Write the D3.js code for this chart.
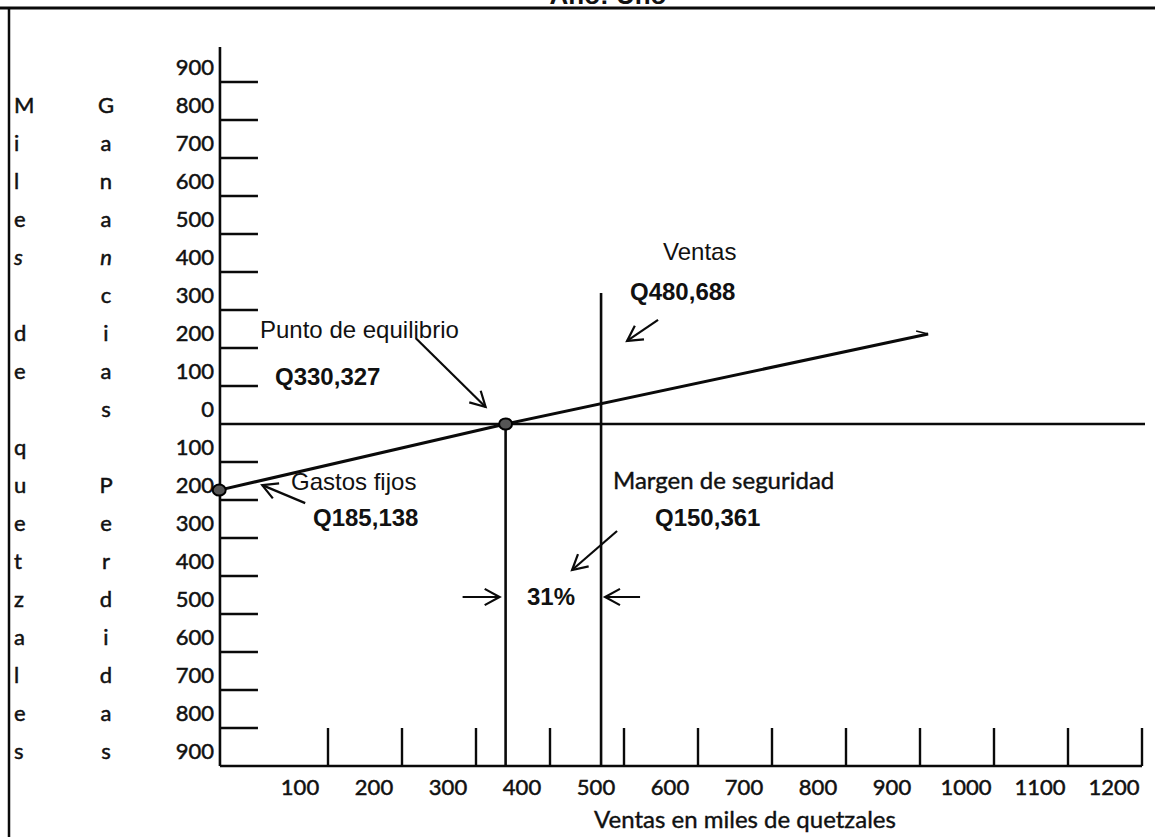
<!DOCTYPE html>
<html>
<head>
<meta charset="utf-8">
<script src="https://d3js.org/d3.v7.min.js"></script>
<style>
body { margin: 0; background: #fff; }
.ink { stroke: #0a0a0a; fill: none; }
.num { font-family: Lato, "Open Sans", sans-serif; font-size: 22px; fill: #111; stroke: #111; stroke-width: 0.5px; }
.note { font-family: "Liberation Sans", Arial, sans-serif; font-size: 24px; fill: #111; }
.note-b { font-family: "Liberation Sans", Arial, sans-serif; font-size: 24px; font-weight: bold; fill: #111; }
.cal { font-family: Lato, "Open Sans", sans-serif; font-size: 24px; fill: #111; stroke: #111; stroke-width: 0.4px; }
</style>
</head>
<body>
<script>
// ---- data (miles de quetzales) ----
var xTicks = [100, 200, 300, 400, 500, 600, 700, 800, 900, 1000, 1100, 1200];
var yTicks = [900, 800, 700, 600, 500, 400, 300, 200, 100, 0, -100, -200, -300, -400, -500, -600, -700, -800, -900];
var col1Words = ["Miles", "de", "quetzales"];
var col1Start = [800, 200, -100];
var col2Words = ["Ganancias", "Perdidas"];
var col2Start = [800, -200];
var profitX = [-47, 340, 911];
var profitY = [-174, 0, 237];
var breakEvenX = 340;
var ventasX = 469;
var ventasTop = 345;
var labelEquilibrio = "Q330,327";
var labelVentas = "Q480,688";
var labelFijos = "Q185,138";
var labelMargen = "Q150,361";
var labelPct = "31%";

var W = 1155, H = 837;
var svg = d3.select("body").append("svg")
    .attr("width", W)
    .attr("height", H);

var x = d3.scaleLinear().domain([0, 1200]).range([254, 1142]);
var y = d3.scaleLinear().domain([-900, 900]).range([766, 82]);
var axisX = x(-46);

// frame + title (cut at the top edge, as in the scan)
svg.append("text")
    .attr("x", 608).attr("y", 4)
    .attr("text-anchor", "middle")
    .attr("class", "note-b")
    .style("font-size", "26px")
    .text("Año: Uno");
svg.append("line").attr("class", "ink")
    .attr("x1", 0).attr("x2", W).attr("y1", 8).attr("y2", 8)
    .style("stroke-width", 3);
svg.append("line").attr("class", "ink")
    .attr("x1", 9).attr("x2", 9).attr("y1", 8).attr("y2", H)
    .style("stroke-width", 2.5);

// y axis
svg.append("line").attr("class", "ink")
    .attr("x1", axisX).attr("x2", axisX)
    .attr("y1", y(900) - 35).attr("y2", y(-900))
    .style("stroke-width", 2.6);

svg.selectAll(".ytick")
    .data(yTicks.filter(function(d) { return d != 0 && d != -900; }))
    .enter().append("line")
    .attr("class", "ink ytick")
    .attr("x1", axisX).attr("x2", axisX + 38)
    .attr("y1", function(d) { return y(d); })
    .attr("y2", function(d) { return y(d); })
    .style("stroke-width", 2.4);

svg.selectAll(".ylab")
    .data(yTicks)
    .enter().append("text")
    .attr("class", "num ylab")
    .attr("x", 214)
    .attr("y", function(d) { return y(d) - 7; })
    .attr("text-anchor", "end")
    .text(function(d) { return Math.abs(d); });

// vertical lettering
function letters(words, starts, xpos, anchor) {
    words.forEach(function(w, k) {
        w.split("").forEach(function(ch, i) {
            var v = starts[k] - i * 100;
            svg.append("text")
                .attr("class", "num")
                .attr("x", xpos)
                .attr("y", y(v) - 7)
                .attr("text-anchor", anchor)
                .style("font-style", v == 400 ? "italic" : "normal")
                .text(ch);
        });
    });
}
letters(col1Words, col1Start, 14, "start");
letters(col2Words, col2Start, 106, "middle");

// zero line and x axis
svg.append("line").attr("class", "ink")
    .attr("x1", axisX).attr("x2", 1145)
    .attr("y1", y(0)).attr("y2", y(0))
    .style("stroke-width", 2.6);
svg.append("line").attr("class", "ink")
    .attr("x1", axisX).attr("x2", x(1200))
    .attr("y1", y(-900)).attr("y2", y(-900))
    .style("stroke-width", 2.6);

svg.selectAll(".xtick")
    .data(xTicks)
    .enter().append("line")
    .attr("class", "ink xtick")
    .attr("x1", function(d) { return x(d); })
    .attr("x2", function(d) { return x(d); })
    .attr("y1", y(-900) - 38).attr("y2", y(-900))
    .style("stroke-width", 2.4);

svg.selectAll(".xlab")
    .data(xTicks)
    .enter().append("text")
    .attr("class", "num xlab")
    .attr("x", function(d) { return x(d) - 28; })
    .attr("y", 795)
    .attr("text-anchor", "middle")
    .text(function(d) { return d; });

svg.append("text")
    .attr("class", "cal")
    .attr("x", 745).attr("y", 828)
    .attr("text-anchor", "middle")
    .text("Ventas en miles de quetzales");

// break-even and sales verticals
svg.append("line").attr("class", "ink")
    .attr("x1", x(breakEvenX)).attr("x2", x(breakEvenX))
    .attr("y1", y(0)).attr("y2", y(-900))
    .style("stroke-width", 2.6);
svg.append("line").attr("class", "ink")
    .attr("x1", x(ventasX)).attr("x2", x(ventasX))
    .attr("y1", y(ventasTop)).attr("y2", y(-900))
    .style("stroke-width", 2.6);

// profit line
var pts = profitX.map(function(d, i) { return [d, profitY[i]]; });
var line = d3.line()
    .x(function(d) { return x(d[0]); })
    .y(function(d) { return y(d[1]); });
svg.append("path")
    .datum(pts)
    .attr("class", "ink")
    .attr("d", line)
    .style("stroke-width", 3);

// little hook at the end of the line
var ex = x(pts[2][0]), ey = y(pts[2][1]);
svg.append("path").attr("class", "ink")
    .attr("d", "M" + (ex - 12) + "," + (ey - 3) + "L" + ex + "," + ey)
    .style("stroke-width", 1.5);

svg.selectAll(".dot")
    .data([pts[0], pts[1]])
    .enter().append("ellipse")
    .attr("cx", function(d) { return x(d[0]); })
    .attr("cy", function(d) { return y(d[1]); })
    .attr("rx", 6.5).attr("ry", 5.5)
    .style("fill", "#555").style("stroke", "#000").style("stroke-width", 2);

// arrows
function arrow(x1, y1, x2, y2) {
    var a = Math.atan2(y2 - y1, x2 - x1), L = 17, s = 0.5;
    svg.append("line").attr("class", "ink")
        .attr("x1", x1).attr("y1", y1).attr("x2", x2).attr("y2", y2)
        .style("stroke-width", 2.2);
    svg.append("path").attr("class", "ink")
        .attr("d", "M" + (x2 - L * Math.cos(a - s)) + "," + (y2 - L * Math.sin(a - s)) +
            "L" + x2 + "," + y2 +
            "L" + (x2 - L * Math.cos(a + s)) + "," + (y2 - L * Math.sin(a + s)))
        .style("stroke-width", 2.2);
}
var bx = x(breakEvenX), by = y(0);
var vx = x(ventasX), vy = y(ventasTop);
var fx = x(pts[0][0]), fy = y(pts[0][1]);

arrow(bx - 90, by - 86, bx - 20, by - 17);
arrow(vx + 57, vy + 27, vx + 26, vy + 48);
arrow(fx + 86, fy + 13, fx + 43, fy - 5);
arrow(vx + 16, by + 107, vx - 29, by + 146);
arrow(bx - 43, by + 173, bx - 6, by + 173);
arrow(vx + 39, by + 173, vx + 4, by + 173);

// notes
svg.append("text").attr("class", "note").attr("x", 260).attr("y", 338).text("Punto de equilibrio");
svg.append("text").attr("class", "note-b").attr("x", 275).attr("y", 385).text(labelEquilibrio);
svg.append("text").attr("class", "note").attr("x", 663).attr("y", 260).text("Ventas");
svg.append("text").attr("class", "note-b").attr("x", 630).attr("y", 300).text(labelVentas);
svg.append("text").attr("class", "note").attr("x", 291).attr("y", 490).text("Gastos fijos");
svg.append("text").attr("class", "note-b").attr("x", 313).attr("y", 526).text(labelFijos);
svg.append("text").attr("class", "cal").attr("x", 613).attr("y", 489).text("Margen de seguridad");
svg.append("text").attr("class", "note-b").attr("x", 655).attr("y", 526).text(labelMargen);
svg.append("text").attr("class", "note-b").attr("x", 527).attr("y", 605).text(labelPct);
</script>
</body>
</html>
